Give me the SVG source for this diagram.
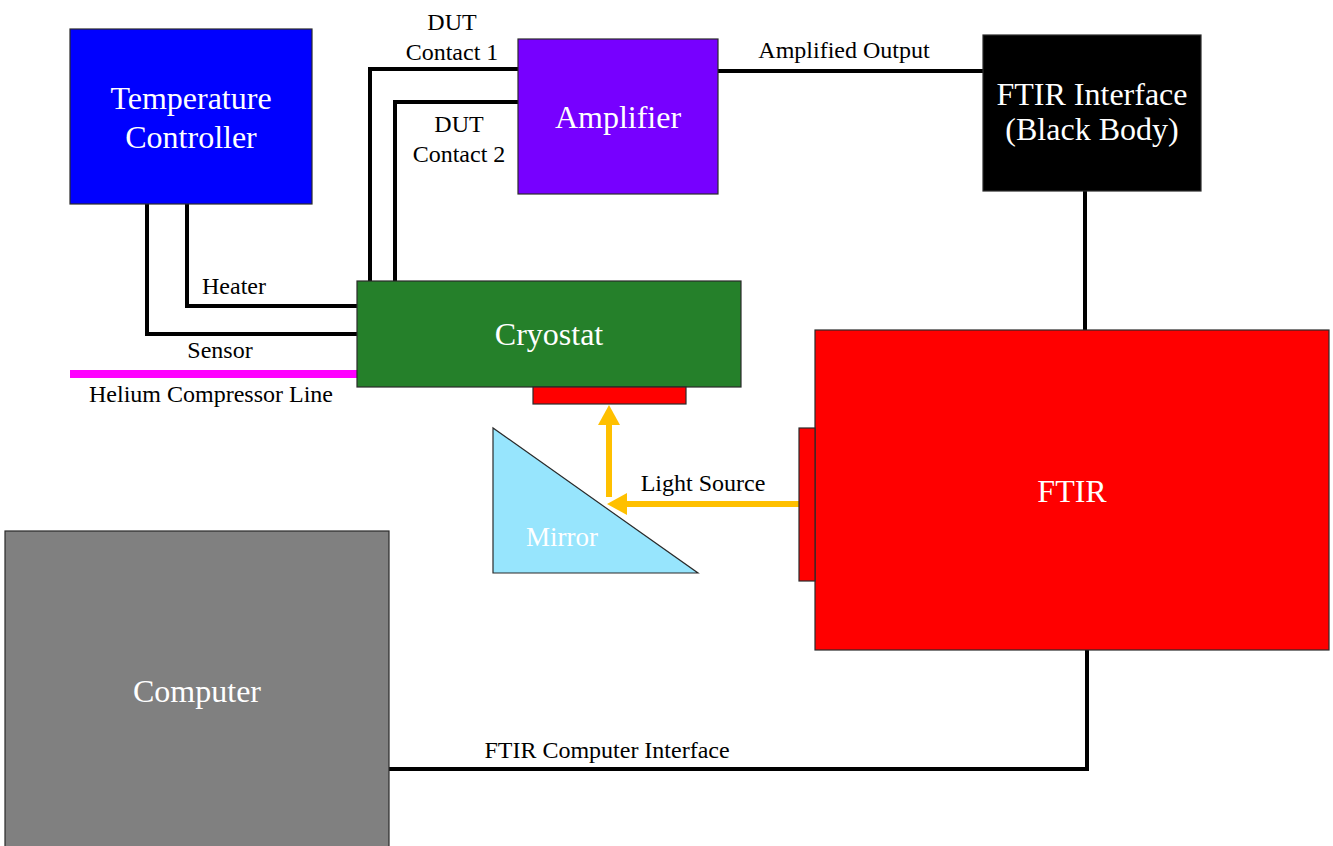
<svg xmlns="http://www.w3.org/2000/svg" width="1333" height="846" viewBox="0 0 1333 846">
  <style>
    .box { stroke: #2a2a2a; stroke-width: 1.2; }
    .wire { fill: none; stroke: #000; stroke-width: 4; stroke-linejoin: miter; stroke-linecap: square; }
    .beam { fill: none; stroke: #ffc000; stroke-width: 6; }
    .head { fill: #ffc000; }
    .lbl { font-family: "Liberation Serif", "Times New Roman", serif; font-size: 24px; fill: #000; text-anchor: middle; }
    .big { font-family: "Liberation Serif", "Times New Roman", serif; font-size: 32px; fill: #fff; text-anchor: middle; }
  </style>
  <rect width="1333" height="846" fill="#fff"/>

  <!-- wiring and light path -->
  <g id="connectors">
    <polyline class="wire" points="187,205 187,306 357,306"/>
    <polyline class="wire" points="147,205 147,334 357,334"/>
    <line x1="70" y1="374" x2="357" y2="374" stroke="#ff00ff" stroke-width="8"/>
    <polyline class="wire" points="370,281 370,69 518,69"/>
    <polyline class="wire" points="395,281 395,102 518,102"/>
    <line class="wire" x1="718" y1="71" x2="983" y2="71"/>
    <line class="wire" x1="1085" y1="191" x2="1085" y2="330"/>
    <polyline class="wire" points="389,769 1087,769 1087,650"/>
    <line class="beam" x1="799" y1="504" x2="624" y2="504"/>
    <polygon class="head" points="607,504 627,493 627,515"/>
    <line class="beam" x1="609" y1="497" x2="609" y2="422"/>
    <polygon class="head" points="609,405 598,425 620,425"/>
    <text class="lbl" x="452" y="30">DUT</text>
    <text class="lbl" x="452" y="60">Contact 1</text>
    <text class="lbl" x="459" y="132">DUT</text>
    <text class="lbl" x="459" y="162">Contact 2</text>
    <text class="lbl" x="234" y="294">Heater</text>
    <text class="lbl" x="220" y="358">Sensor</text>
    <text class="lbl" x="211" y="402">Helium Compressor Line</text>
    <text class="lbl" x="844" y="58">Amplified Output</text>
    <text class="lbl" x="703" y="491">Light Source</text>
    <text class="lbl" x="607" y="758">FTIR Computer Interface</text>
  </g>

  <g id="temperature-controller">
    <rect class="box" x="70" y="29" width="242" height="175" fill="#0000ff"/>
    <text class="big" x="191" y="109">Temperature</text>
    <text class="big" x="191" y="148">Controller</text>
  </g>

  <g id="amplifier">
    <rect class="box" x="518" y="39" width="200" height="155" fill="#7700ff"/>
    <text class="big" x="618" y="128">Amplifier</text>
  </g>

  <g id="ftir-interface">
    <rect class="box" x="983" y="35" width="218" height="156" fill="#000"/>
    <text class="big" x="1092" y="105">FTIR Interface</text>
    <text class="big" x="1092" y="140">(Black Body)</text>
  </g>

  <g id="cryostat">
    <rect class="box" x="357" y="281" width="384" height="106" fill="#25802a"/>
    <text class="big" x="549" y="345">Cryostat</text>
    <rect class="box" x="533" y="387" width="153" height="17" fill="#ff0000"/>
  </g>

  <g id="ftir">
    <rect class="box" x="815" y="330" width="514" height="320" fill="#ff0000"/>
    <rect class="box" x="799" y="428" width="16" height="153" fill="#ff0000"/>
    <text class="big" x="1072" y="502">FTIR</text>
  </g>

  <g id="mirror">
    <polygon class="box" points="493,428 493,573 698,573" fill="#97e5fd"/>
    <text class="big" x="562" y="546" style="font-size:27px">Mirror</text>
  </g>

  <g id="computer">
    <rect class="box" x="5" y="531" width="384" height="320" fill="#808080"/>
    <text class="big" x="197" y="702">Computer</text>
  </g>
</svg>
